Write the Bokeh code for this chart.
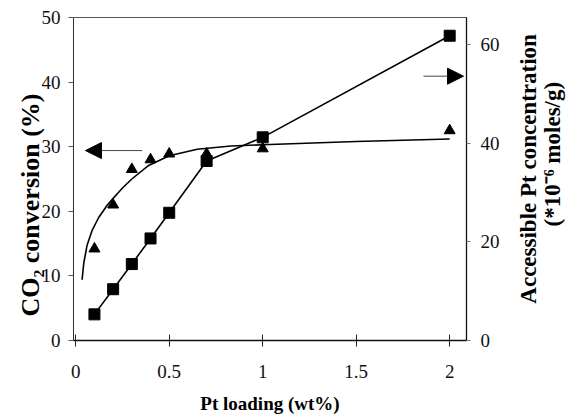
from math import pi

from bokeh.plotting import figure
from bokeh.layouts import row
from bokeh.models import LinearAxis, Range1d, FixedTicker, Label, Arrow, NormalHead
from bokeh.embed import file_html
from bokeh.resources import INLINE

# Pt loading (wt%)
loading = [0.1, 0.2, 0.3, 0.4, 0.5, 0.7, 1.0, 2.0]
# CO2 conversion (%), left axis
conversion = [14.2, 21.0, 26.5, 28.0, 28.9, 28.9, 29.7, 32.5]
# accessible Pt concentration (*10^-6 moles/g), right axis
accessible_pt = [5.3, 10.4, 15.5, 20.7, 25.9, 36.4, 41.2, 61.8]

# trend curve through the conversion data
trend_loading = [0.034, 0.043, 0.061, 0.087, 0.122, 0.167, 0.2, 0.25, 0.3,
                 0.39, 0.5, 0.65, 0.83, 1.0, 1.5, 2.0]
trend_conversion = [9.4, 12.0, 14.8, 17.0, 19.0, 20.9, 22.0, 23.6, 25.0,
                    27.1, 28.6, 29.6, 30.1, 30.3, 30.8, 31.2]

x_ticks = [0, 0.5, 1, 1.5, 2]
x_tick_labels = ["0", "0.5", "1", "1.5", "2"]
left_ticks = [0, 10, 20, 30, 40, 50]
right_ticks = [0, 20, 40, 60]

SERIF = "Liberation Serif"
NBSP = "\u00a0"

MAIN_W, SIDE_W, H = 502, 66, 416

p = figure(width=MAIN_W, height=H,
           x_range=Range1d(-0.012, 2.09), y_range=Range1d(0, 50),
           output_backend="svg", toolbar_location=None,
           min_border_left=73, min_border_right=34,
           min_border_top=17, min_border_bottom=76)
p.extra_y_ranges = {"right": Range1d(0, 65.5)}

p.background_fill_color = "white"
p.border_fill_color = "white"
p.outline_line_color = "#555555"
p.outline_line_width = 1
p.xgrid.visible = False
p.ygrid.visible = False

# bottom axis
xa = p.xaxis[0]
xa.ticker = FixedTicker(ticks=x_ticks)
xa.major_label_overrides = dict(zip(x_ticks, x_tick_labels))
xa.major_tick_in = 6
xa.major_tick_out = 6
xa.minor_tick_line_color = None
xa.major_label_standoff = 18
xa.axis_line_color = "#111111"
xa.axis_line_width = 1.3
xa.major_tick_line_color = "#222222"
xa.axis_label = "Pt loading (wt%)"
xa.axis_label_text_font_size = "19px"
xa.axis_label_text_line_height = 1.0
xa.axis_label_standoff = 12

# left axis; trailing no-break spaces push the centred title down a little
ya = p.yaxis[0]
ya.ticker = FixedTicker(ticks=left_ticks)
ya.major_tick_in = 0
ya.major_tick_out = 5
ya.minor_tick_line_color = None
ya.major_label_standoff = 8
ya.axis_line_color = "#333333"
ya.major_tick_line_color = "#555555"
ya.axis_label = "CO₂ conversion (%)" + NBSP * 8
ya.axis_label_text_font_size = "26px"
ya.axis_label_standoff = -6

# right axis
ra = LinearAxis(y_range_name="right", ticker=FixedTicker(ticks=right_ticks))
ra.major_tick_in = 0
ra.major_tick_out = 4
ra.minor_tick_line_color = None
ra.major_label_standoff = 10
ra.axis_line_color = "#111111"
ra.axis_line_width = 1.3
ra.major_tick_line_color = "#777777"
p.add_layout(ra, "right")

for ax in (xa, ya, ra):
    ax.major_label_text_font = SERIF
    ax.major_label_text_font_size = "19px"
    ax.major_label_text_color = "#111111"

for ax in (xa, ya):
    ax.axis_label_text_font = SERIF
    ax.axis_label_text_font_style = "bold"
    ax.axis_label_text_color = "black"

# conversion trend and accessible Pt line
p.line(trend_loading, trend_conversion, line_color="black", line_width=1.6)
p.line(loading, accessible_pt, y_range_name="right",
       line_color="black", line_width=1.6)
p.scatter(loading, accessible_pt, y_range_name="right", marker="square",
          size=11, fill_color="black", line_color="black")
p.scatter(loading, conversion, marker="triangle", size=11,
          fill_color="black", line_color="black")

# arrows pointing to each series' axis
p.add_layout(Arrow(end=NormalHead(size=16, fill_color="black", line_color="black"),
                   x_start=0.355, y_start=29.4, x_end=0.052, y_end=29.4,
                   line_color="#444444", line_width=1))
p.add_layout(Arrow(end=NormalHead(size=16, fill_color="black", line_color="black"),
                   x_start=1.86, y_start=53.6, x_end=2.074, y_end=53.6,
                   y_range_name="right", line_color="#444444", line_width=1))

# narrow strip on the right holding the two-line right-axis title
side = figure(width=SIDE_W, height=H, x_range=Range1d(0, SIDE_W), y_range=Range1d(0, H),
              output_backend="svg", toolbar_location=None,
              x_axis_location=None, y_axis_location=None,
              min_border=0, min_border_left=0, min_border_right=0,
              min_border_top=0, min_border_bottom=0)
side.outline_line_color = None
side.xgrid.visible = False
side.ygrid.visible = False
side.background_fill_color = "white"
side.border_fill_color = "white"

for text, x, y in (("Accessible Pt concentration", 26, 221),
                   ("(*10⁻⁶ moles/g)", 50, 240)):
    side.add_layout(Label(x=x, y=y, text=text, angle=pi / 2,
                          text_align="center", text_baseline="middle",
                          text_font=SERIF, text_font_style="bold",
                          text_font_size="23px", text_color="black"))

layout = row(p, side)
open("out.html", "w").write(file_html(layout, INLINE))
